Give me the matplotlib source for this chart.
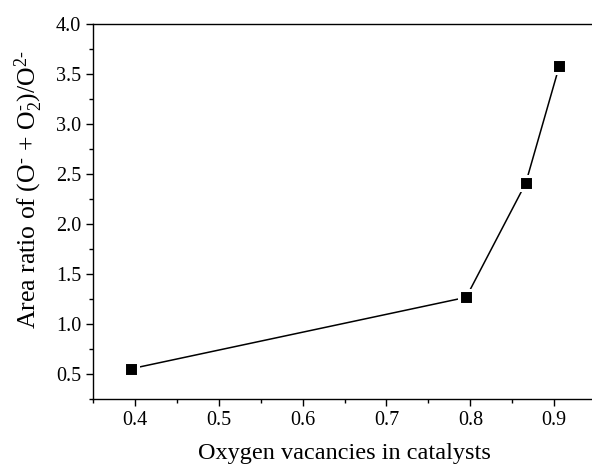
import numpy as np
import matplotlib
matplotlib.use("Agg")
import matplotlib.pyplot as plt
from matplotlib.ticker import MultipleLocator

plt.rcParams['font.family'] = ['Liberation Serif', 'DejaVu Serif']
plt.rcParams['mathtext.fontset'] = 'custom'
plt.rcParams['mathtext.rm'] = 'Liberation Serif'
plt.rcParams['mathtext.it'] = 'Liberation Serif:italic'
plt.rcParams['mathtext.default'] = 'regular'

# data
vacancies = [0.395, 0.795, 0.866, 0.906]
area_ratio = [0.555, 1.27, 2.41, 3.58]

x_label = "Oxygen vacancies in catalysts"
y_label = r"Area ratio of (O$^{\text{-}}$ + O$_{2}^{\text{-}}$)/O$^{2\text{-}}$"

fig = plt.figure(figsize=(5.92, 4.66), dpi=100)
# axes run slightly past the right edge, like the cropped original
ax = fig.add_axes([0.157, 0.143, 0.850, 0.805])

ax.plot(vacancies, area_ratio, color='black', lw=1.1,
        marker='s', markersize=9.4, markerfacecolor='black',
        markeredgecolor='white', markeredgewidth=2.2)

ax.set_xlim(0.35, 0.95)
ax.set_ylim(0.25, 4.0)
ax.xaxis.set_major_locator(MultipleLocator(0.1))
ax.xaxis.set_minor_locator(MultipleLocator(0.05))
ax.yaxis.set_major_locator(MultipleLocator(0.5))
ax.yaxis.set_minor_locator(MultipleLocator(0.25))

ax.tick_params(which='both', direction='out', top=False, right=False,
               width=1.0, labelsize=14.5, colors='black')
ax.tick_params(which='major', length=5)
ax.tick_params(which='minor', length=3)
for s in ax.spines.values():
    s.set_linewidth(1.0)

ax.set_xlabel(x_label, fontsize=17.5, labelpad=9.5)
ax.set_ylabel(y_label, fontsize=18.5)
ax.yaxis.set_label_coords(-0.096, 0.56)

fig.savefig("out.png", dpi=100)
